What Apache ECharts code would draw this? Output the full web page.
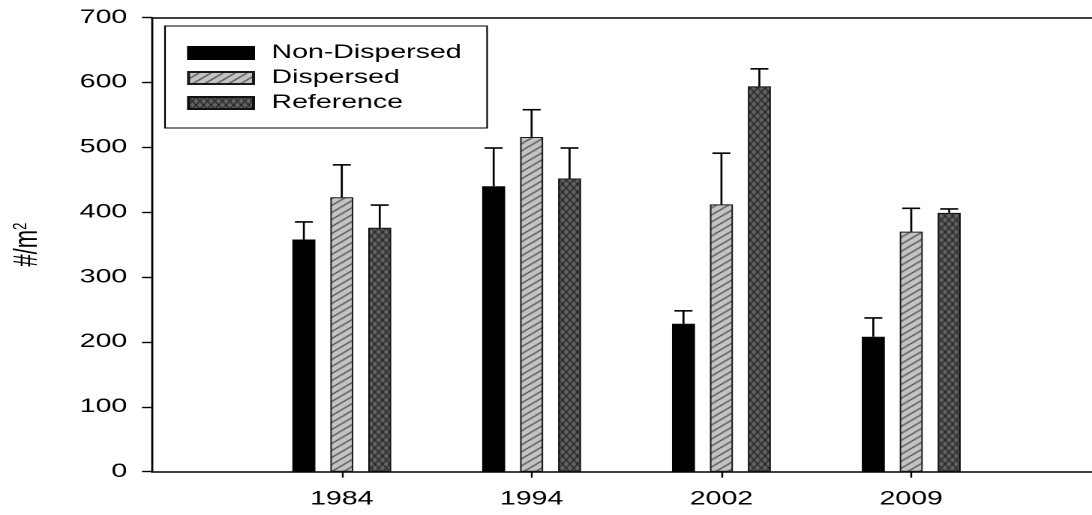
<!DOCTYPE html>
<html>
<head>
<meta charset="utf-8">
<script src="https://cdn.jsdelivr.net/npm/echarts@6/dist/echarts.min.js"></script>
<style>
  html, body { margin: 0; padding: 0; background: #fff; }
  #wrap { width: 1092px; height: 515px; overflow: hidden; position: relative; }
  #chart { width: 728px; height: 515px; transform: scaleX(1.5); transform-origin: 0 0; }
</style>
</head>
<body>
<div id="wrap"><div id="chart"></div></div>
<script>
// ---- data ----
const years = ['1984', '1994', '2002', '2009'];
const seriesNames = ['Non-Dispersed', 'Dispersed', 'Reference'];
const nonDispersed    = [358, 440, 228, 208];
const nonDispersedErr = [27, 59, 20, 29];
const dispersed       = [423, 516, 412, 370];
const dispersedErr    = [50, 42, 79, 36];
const reference       = [376, 452, 594, 399];
const referenceErr    = [35, 47, 27, 6];
const yMin = 0, yMax = 700, yStep = 100;

// ---- style ----
const FONT = 'Liberation Sans, Arial, Helvetica, sans-serif';
const BAR_W = 15.33;
const BAR_GAP = 0.65;
const CAP_W = 12;

function makePattern(w, h, bg, stroke, draw) {
  const c = document.createElement('canvas');
  c.width = w; c.height = h;
  const ctx = c.getContext('2d');
  ctx.fillStyle = bg;
  ctx.fillRect(0, 0, w, h);
  ctx.strokeStyle = stroke;
  ctx.lineWidth = 1;
  draw(ctx, w, h);
  return { image: c, repeat: 'repeat' };
}
const diagPattern = makePattern(8, 7, '#c4c4c4', '#111', (ctx, w, h) => {
  for (let k = -1; k <= 1; k++) {
    ctx.beginPath();
    ctx.moveTo(0, h + k * h);
    ctx.lineTo(w, k * h);
    ctx.stroke();
  }
});
const crossPattern = makePattern(5, 8, '#666666', '#1a1a1a', (ctx, w, h) => {
  for (let k = -1; k <= 1; k++) {
    ctx.beginPath();
    ctx.moveTo(0, k * h);
    ctx.lineTo(w, h + k * h);
    ctx.stroke();
    ctx.beginPath();
    ctx.moveTo(0, h + k * h);
    ctx.lineTo(w, k * h);
    ctx.stroke();
  }
});

const values = [nonDispersed, dispersed, reference];
const errors = [nonDispersedErr, dispersedErr, referenceErr];
const itemStyles = [
  { color: '#000', borderColor: '#000', borderWidth: 0.6 },
  { color: diagPattern, borderColor: '#1a1a1a', borderWidth: 1 },
  { color: crossPattern, borderColor: '#111', borderWidth: 1 }
];

const barSeries = seriesNames.map((name, s) => ({
  name: name,
  type: 'bar',
  barWidth: BAR_W,
  barGap: (BAR_GAP * 100) + '%',
  itemStyle: itemStyles[s],
  emphasis: { disabled: true },
  data: values[s].map((v, i) => [i + 1, v]),
  z: 2
}));

const errSeries = seriesNames.map((name, s) => {
  const offset = (s - 1) * BAR_W * (1 + BAR_GAP);
  return {
    name: name + ' error',
    type: 'custom',
    z: 3,
    silent: true,
    encode: { x: 0, y: 1 },
    data: values[s].map((v, i) => [i + 1, v, errors[s][i]]),
    renderItem: function (params, api) {
      const x = api.value(0), v = api.value(1), e = api.value(2);
      const base = api.coord([x, v]);
      const top = api.coord([x, v + e]);
      const cx = base[0] + offset;
      return {
        type: 'group',
        children: [
          { type: 'line', shape: { x1: cx, y1: base[1], x2: cx, y2: top[1] },
            style: { stroke: '#000', lineWidth: 1.35 } },
          { type: 'line', shape: { x1: cx - CAP_W / 2, y1: top[1], x2: cx + CAP_W / 2, y2: top[1] },
            style: { stroke: '#000', lineWidth: 1.6 } }
        ]
      };
    }
  };
});

const chart = echarts.init(document.getElementById('chart'), null, { renderer: 'canvas', devicePixelRatio: 2 });
chart.setOption({
  animation: false,
  backgroundColor: '#fff',
  textStyle: { fontFamily: FONT, color: '#000' },
  grid: { left: 101.33, width: 632.7, top: 17.6, bottom: 43.3, containLabel: false, outerBoundsMode: 'none' },
  legend: {
    data: seriesNames,
    orient: 'vertical',
    left: 110,
    top: 26,
    padding: [17, 17, 15, 14.7],
    itemWidth: 43.3,
    itemHeight: 12,
    itemGap: 5,
    icon: 'rect',
    selectedMode: false,
    borderColor: '#000',
    borderWidth: 1.1,
    backgroundColor: '#fff',
    textStyle: { fontFamily: FONT, fontSize: 19, color: '#000', lineHeight: 20, padding: [0, 0, 0, 7] }
  },
  xAxis: [{
    type: 'value',
    min: 0,
    max: years.length + 1,
    splitLine: { show: false },
    axisLine: { show: true, onZero: false, lineStyle: { color: '#000', width: 1.6 } },
    axisTick: { show: true, inside: false, length: 6, customValues: years.map((_, i) => i + 1),
                lineStyle: { color: '#000', width: 1.2 } },
    axisLabel: { show: true, customValues: years.map((_, i) => i + 1),
                 formatter: v => years[Math.round(v) - 1] || '',
                 fontFamily: FONT, fontSize: 19, color: '#000', margin: 18 }
  }, {
    type: 'value',
    position: 'top',
    min: 0,
    max: years.length + 1,
    splitLine: { show: false },
    axisLine: { show: true, onZero: false, lineStyle: { color: '#000', width: 1.6 } },
    axisTick: { show: false },
    axisLabel: { show: false }
  }],
  yAxis: {
    type: 'value',
    min: yMin,
    max: yMax,
    interval: yStep,
    splitLine: { show: false },
    axisLine: { show: true, onZero: false, lineStyle: { color: '#000', width: 1.4 } },
    axisTick: { show: true, inside: false, length: 6.7, lineStyle: { color: '#000', width: 1.4 } },
    axisLabel: { fontFamily: FONT, fontSize: 19, color: '#000', margin: 16.5 },
    name: '{a|#/m}{sup|2}',
    nameLocation: 'middle',
    nameRotate: 90,
    nameGap: 72,
    nameTextStyle: {
      fontFamily: FONT, fontSize: 22, color: '#000',
      rich: {
        a: { fontFamily: FONT, fontSize: 22, color: '#000' },
        sup: { fontFamily: FONT, fontSize: 13, color: '#000', verticalAlign: 'top', padding: [0, 0, 9, 0] }
      }
    }
  },
  series: barSeries.concat(errSeries)
});
</script>
</body>
</html>
